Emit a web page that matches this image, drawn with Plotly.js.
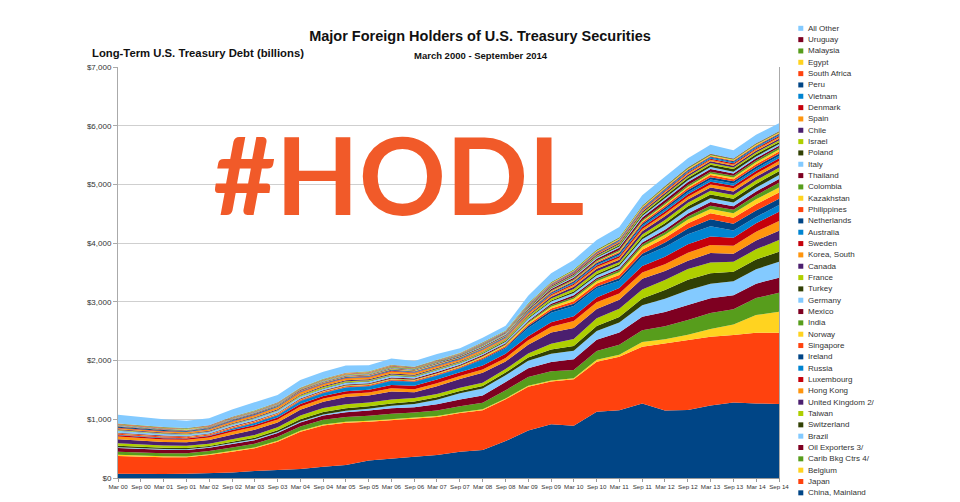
<!DOCTYPE html>
<html>
<head>
<meta charset="utf-8">
<script src="https://cdn.plot.ly/plotly-3.0.1.min.js"></script>
<style>
html,body{margin:0;padding:0;background:#fff;}
#chart{width:960px;height:502px;}
</style>
</head>
<body>
<div id="chart"></div>
<script>
// ---- time axis (semiannual observations) ----
const dates = ['2000-03-01','2000-09-01','2001-03-01','2001-09-01','2002-03-01','2002-09-01','2003-03-01','2003-09-01','2004-03-01','2004-09-01',
               '2005-03-01','2005-09-01','2006-03-01','2006-09-01','2007-03-01','2007-09-01','2008-03-01','2008-09-01','2009-03-01','2009-09-01',
               '2010-03-01','2010-09-01','2011-03-01','2011-09-01','2012-03-01','2012-09-01','2013-03-01','2013-09-01','2014-03-01','2014-09-01'];
const tickLabels = ['Mar 00','Sep 00','Mar 01','Sep 01','Mar 02','Sep 02','Mar 03','Sep 03','Mar 04','Sep 04',
                    'Mar 05','Sep 05','Mar 06','Sep 06','Mar 07','Sep 07','Mar 08','Sep 08','Mar 09','Sep 09',
                    'Mar 10','Sep 10','Mar 11','Sep 11','Mar 12','Sep 12','Mar 13','Sep 13','Mar 14','Sep 14'];
const yTickValues = [0,1000,2000,3000,4000,5000,6000,7000];
const yTickLabels = ['$0','$1,000','$2,000','$3,000','$4,000','$5,000','$6,000','$7,000'];

// ---- holdings, billions of dollars (bottom of stack first) ----
const china       = [72,65,70,72,80,95,120,140,153,193, 221,300,335,363,392,449,477,630,810,915, 890,1130,1155,1270,1150,1158,1235,1285,1270,1262];
const japan       = [303,298,282,280,312,354,386,479,636,702, 719,660,655,652,648,656,678,710,745,730, 791,851,911,967,1144,1193,1172,1151,1205,1213];
const belgium     = [20,18,17,15,14,14,15,16,17,18, 18,15,14,14,14,15,16,15,16,17, 18,33,33,80,70,90,130,180,300,358];
const caribBkg    = [50,50,52,54,52,58,62,66,70,78, 82,85,90,85,95,100,110,140,150,155, 140,150,170,200,220,250,275,260,290,324];
const oilExp      = [65,62,60,58,56,60,62,66,70,72, 80,88,95,92,105,115,125,140,150,160, 185,190,210,230,245,255,250,235,245,255];
const brazil      = [15,14,13,12,12,13,14,15,16,18, 25,30,40,55,80,110,120,115,125,140, 145,150,170,195,225,250,245,240,245,272];
const switzerland = [25,24,22,21,20,22,25,30,40,45, 45,42,40,40,40,38,42,45,55,70, 80,85,95,115,150,180,180,160,165,170];
const taiwan      = [40,38,37,36,38,42,48,52,62,66, 68,65,66,60,58,52,55,60,70,100, 120,130,140,155,170,185,185,170,175,199];
const uk          = [70,65,62,60,62,80,88,80,100,105, 120,120,140,100,130,150,170,130,150,190, 185,160,150,180,150,140,160,140,150,159];
const hongKong    = [45,42,40,42,44,50,52,52,55,55, 52,50,52,52,52,52,55,60,75,100, 120,115,110,110,115,135,135,135,150,165];
const luxembourg  = [25,24,23,22,24,28,32,35,40,45, 48,50,55,60,62,62,70,72,70,75, 80,80,90,110,130,145,145,135,145,159];
const russia      = [5,8,9,5,8,23,32,38,50,48, 62,55,68,62,64,66,97,93,139,163, 177,157,127,155,165,170,175,125,105,114];
const ireland     = [2,2,2,2,3,3,4,4,5,6, 6,7,9,8,9,10,13,19,32,39, 35,30,41,53,76,99,122,113,109,107];
const singapore   = [17,17,16,16,16,18,18,17,17,17, 17,16,17,16,16,16,19,19,26,32, 46,53,57,66,76,89,102,103,109,105];
const norway      = [5,5,6,6,6,7,7,8,8,9, 10,11,12,12,13,14,18,19,25,32, 39,38,45,53,57,64,71,78,84,87];
const india       = [2,2,2,2,2,3,3,3,4,4, 5,5,6,7,8,8,10,12,19,25, 29,30,33,37,43,49,56,59,69,80];
const mexico      = [10,9,9,9,9,11,11,11,12,13, 16,16,19,17,18,17,18,18,19,25, 31,23,25,35,43,54,61,59,64,65];
const germany     = [33,31,29,26,25,27,28,27,27,27, 28,28,29,25,26,24,25,25,35,36, 39,42,49,57,67,67,67,64,65,66];
const turkey      = [3,3,3,3,3,5,5,6,6,6, 7,8,9,9,10,11,13,14,18,21, 25,27,29,33,43,54,61,64,64,64];
const france      = [10,10,9,9,8,8,9,11,16,21, 18,13,11,11,12,12,15,17,25,32, 42,46,33,48,57,59,66,64,61,60];
const canada      = [13,13,11,10,11,13,15,16,16,17, 18,18,19,17,15,12,10,9,19,28, 39,42,45,53,62,59,56,59,59,58];
const korea       = [17,18,19,19,20,24,29,31,35,31, 30,30,33,30,31,26,23,20,25,27, 31,32,35,40,44,47,51,54,54,55];
const sweden      = [7,6,6,6,6,7,7,7,8,9, 9,10,11,10,10,9,8,7,13,18, 23,26,30,33,38,41,44,44,46,48];
const australia   = [3,3,2,3,3,4,4,4,4,5, 5,6,6,7,8,8,8,9,11,13, 15,17,21,26,32,35,39,39,40,40];
const netherlands = [17,16,15,13,12,13,13,11,11,10, 10,11,12,10,10,10,10,10,14,18, 21,23,26,29,33,35,39,37,38,38];
const philippines = [3,3,3,3,3,3,4,3,4,4, 5,5,6,6,6,6,6,7,9,13, 15,17,21,26,32,35,37,36,38,37];
const kazakhstan  = [1,1,1,1,1,2,2,3,3,4, 4,5,5,5,6,6,5,4,5,7, 9,11,13,16,20,24,28,29,32,34];
const colombia    = [2,2,2,2,2,2,3,3,3,3, 4,4,5,5,6,6,7,7,10,13, 15,17,19,22,26,28,31,30,32,33];
const thailand    = [7,6,7,7,7,8,8,8,9,9, 9,9,10,10,11,12,14,14,20,23, 27,30,37,44,53,51,46,39,35,32];
const italy       = [7,6,7,6,7,7,8,8,8,8, 8,9,10,9,10,10,10,11,13,16, 18,20,23,25,29,30,31,30,31,31];
const poland      = [3,3,3,3,3,4,4,4,4,5, 5,6,6,6,7,7,8,7,9,11, 14,15,21,26,33,37,41,44,40,30];
const israel      = [7,6,6,6,6,7,7,7,7,7, 7,8,8,8,8,8,9,9,11,13, 15,17,20,23,27,28,29,28,29,29];
const chile       = [3,3,3,3,3,4,4,4,4,4, 4,4,5,5,6,7,8,9,13,16, 18,20,23,26,31,30,29,27,28,28];
const spain       = [5,5,5,5,4,5,5,5,5,5, 5,5,5,5,6,6,6,6,8,10, 12,13,16,18,21,24,26,25,27,27];
const denmark     = [3,3,3,3,3,4,4,3,3,4, 4,4,4,4,5,4,5,5,6,8, 9,10,11,13,15,16,17,18,19,20];
const vietnam     = [0,0,0,0,0,0,1,1,1,1, 1,2,2,2,3,3,4,4,6,7, 9,11,12,14,17,20,20,19,19,19];
const peru        = [1,1,1,1,1,2,2,2,2,2, 2,3,3,3,3,3,4,4,6,8, 9,10,11,12,14,16,16,15,15,15];
const southAfrica = [2,2,2,2,2,2,2,2,2,3, 3,3,3,3,4,3,4,4,6,6, 8,8,9,10,11,12,12,13,13,13];
const egypt       = [2,2,2,2,2,2,2,3,3,3, 3,3,4,3,4,4,5,5,7,9, 10,11,12,13,13,13,13,13,13,13];
const malaysia    = [7,6,6,6,6,7,7,7,6,7, 7,7,7,7,7,7,8,8,10,13, 15,17,19,19,19,18,15,14,13,12];
const uruguay     = [1,1,1,1,1,1,1,1,1,1, 1,1,1,1,2,1,2,1,3,3, 4,4,5,5,7,7,8,8,9,10];
const allOther    = [148,140,133,124,119,126,132,125,125,121, 125,105,109,95,90,74,80,80,125,152, 162,163,173,173,158,153,155,141,147,136];

const names = ['China, Mainland','Japan','Belgium','Carib Bkg Ctrs 4/','Oil Exporters 3/','Brazil','Switzerland','Taiwan',
  'United Kingdom 2/','Hong Kong','Luxembourg','Russia','Ireland','Singapore','Norway','India','Mexico','Germany','Turkey',
  'France','Canada','Korea, South','Sweden','Australia','Netherlands','Philippines','Kazakhstan','Colombia','Thailand','Italy',
  'Poland','Israel','Chile','Spain','Denmark','Vietnam','Peru','South Africa','Egypt','Malaysia','Uruguay','All Other'];
const series = [china,japan,belgium,caribBkg,oilExp,brazil,switzerland,taiwan,uk,hongKong,luxembourg,russia,ireland,
  singapore,norway,india,mexico,germany,turkey,france,canada,korea,sweden,australia,netherlands,philippines,kazakhstan,
  colombia,thailand,italy,poland,israel,chile,spain,denmark,vietnam,peru,southAfrica,egypt,malaysia,uruguay,allOther];

// ---- styling ----
const palette = ['#004586','#ff420e','#ffd320','#579d1c','#7e0021','#83caff','#314004','#aecf00','#4b1f6f','#ff950e','#c5000b','#0084d1'];
const W = 960, H = 502;
const M = {l:118, r:181, t:67, b:24};
const PW = W - M.l - M.r, PH = H - M.t - M.b;
const px2x = X => (X - M.l) / PW;
const px2y = Y => (H - M.b - Y) / PH;
const FONT = 'Liberation Sans, Arial, sans-serif';

const traces = series.map((v, i) => ({
  type: 'scatter', mode: 'lines', x: dates, y: v, name: names[i],
  stackgroup: 'one', line: {width: 0, color: palette[i % 12]},
  fillcolor: palette[i % 12], hoverinfo: 'skip', showlegend: false
}));

// manual legend (top entry = last series)
const shapes = [];
const annotations = [];
const legTop = 28.3, legStep = 11.33;
for (let i = series.length - 1; i >= 0; i--) {
  const k = series.length - 1 - i;
  const yc = legTop + k * legStep;
  shapes.push({type:'rect', xref:'paper', yref:'paper',
    x0: px2x(798.3), x1: px2x(803.3), y0: px2y(yc + 2.5), y1: px2y(yc - 2.5),
    fillcolor: palette[i % 12], line: {width: 0}});
  annotations.push({xref:'paper', yref:'paper', x: px2x(806), y: px2y(yc),
    xanchor:'left', yanchor:'middle', showarrow:false, text: names[i],
    font:{family: FONT, size: 8, color:'#333'}});
}

annotations.push({xref:'paper', yref:'paper', x: px2x(90), y: px2y(53), xanchor:'left', yanchor:'middle',
  showarrow:false, text:'<b>Long-Term U.S. Treasury Debt (billions)</b>', font:{family: FONT, size: 11.3, color:'#111'}});
annotations.push({xref:'paper', yref:'paper', x: px2x(481), y: px2y(55), xanchor:'center', yanchor:'middle',
  showarrow:false, text:'<b>March 2000 - September 2014</b>', font:{family: FONT, size: 9.5, color:'#111'}});
annotations.push({xref:'paper', yref:'paper', x: px2x(398), y: px2y(173), xanchor:'center', yanchor:'middle',
  showarrow:false, text:'#HODL', font:{family:'Lato, sans-serif', size: 108, weight: 700, color:'#f15a29'}});

const layout = {
  width: W, height: H,
  margin: {l: M.l, r: M.r, t: M.t, b: M.b, pad: 0},
  paper_bgcolor: '#ffffff', plot_bgcolor: '#ffffff',
  showlegend: false,
  font: {family: FONT, color: '#333'},
  title: {text: '<b>Major Foreign Holders of U.S. Treasury Securities</b>', x: 0.5, xref: 'container',
          y: 1 - 36 / H, yref: 'container', yanchor: 'middle', font: {family: FONT, size: 14.5, color: '#111'}},
  xaxis: {type: 'date', range: [dates[0], dates[dates.length - 1]], tickmode: 'array',
          tickvals: dates, ticktext: tickLabels, tickangle: 0, tickfont: {family: FONT, size: 6.2, color: '#333'},
          ticks: 'outside', ticklen: 3, tickcolor: '#999', showline: true, linecolor: '#999', linewidth: 1,
          showgrid: false, zeroline: false, automargin: false},
  yaxis: {range: [0, 7000], tickmode: 'array', tickvals: yTickValues, ticktext: yTickLabels,
          tickfont: {family: FONT, size: 8, color: '#333'}, ticks: 'outside', ticklen: 4, tickcolor: '#aaa',
          showline: true, mirror: true, linecolor: '#aaa', linewidth: 1,
          showgrid: true, gridcolor: '#cfcfcf', gridwidth: 1, zeroline: false, automargin: false},
  shapes: shapes,
  annotations: annotations
};

Plotly.newPlot('chart', traces, layout, {displayModeBar: false, staticPlot: true});
</script>
</body>
</html>
